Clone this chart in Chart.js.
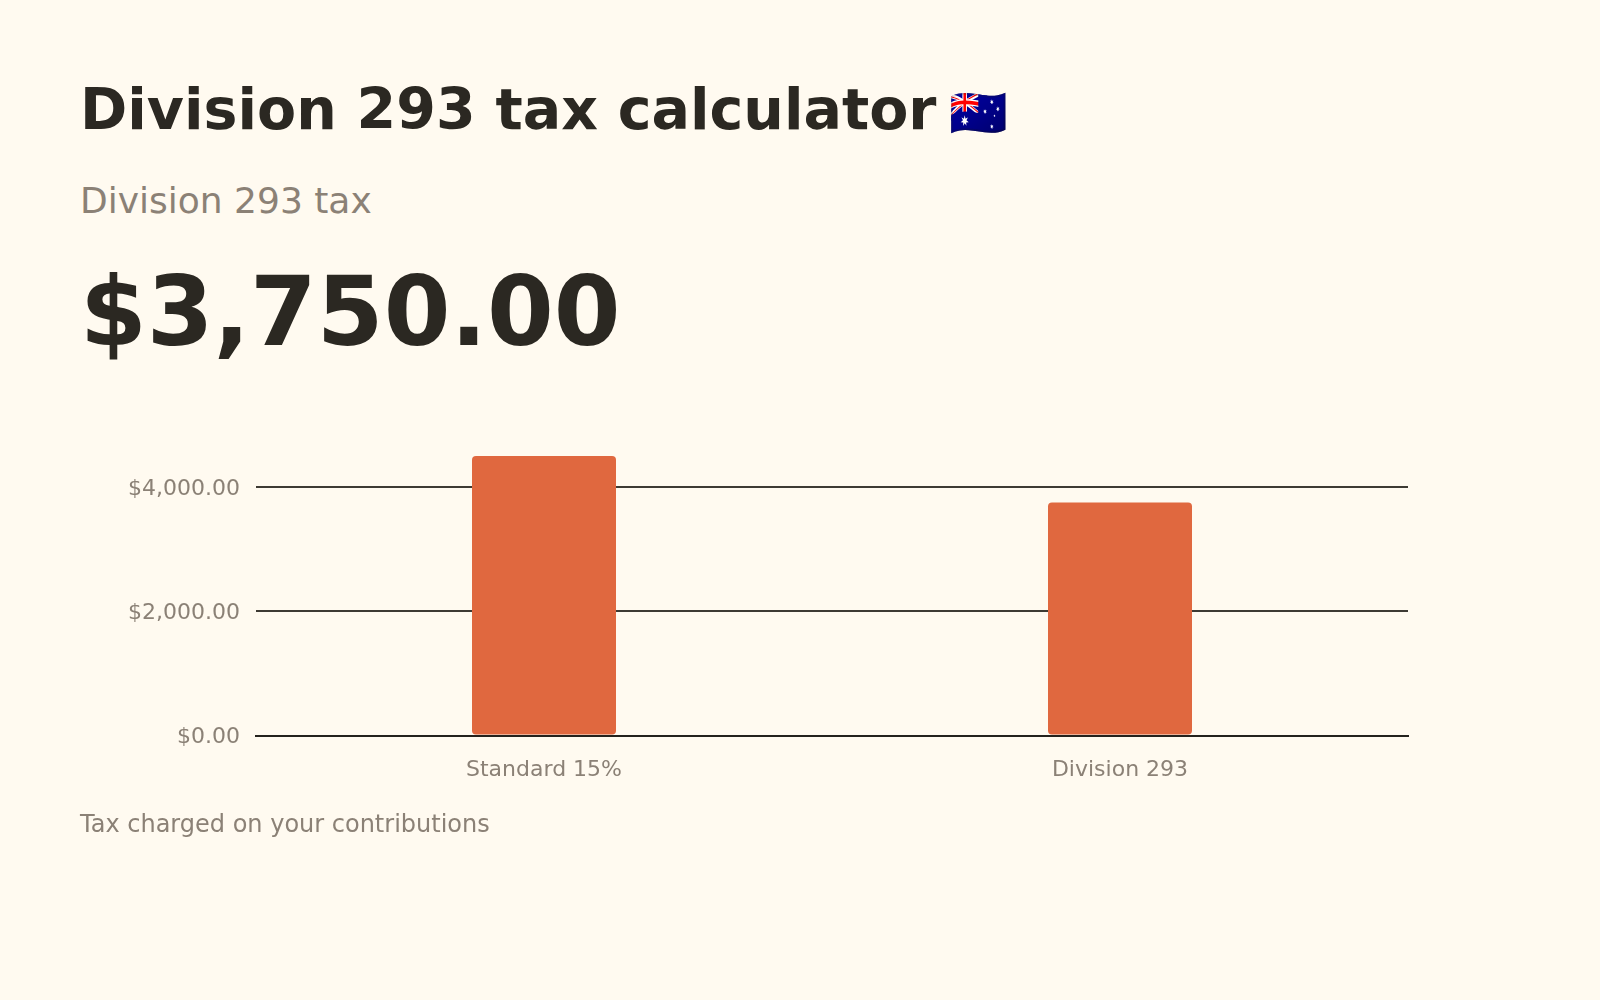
<!DOCTYPE html>
<html>
<head>
<meta charset="utf-8">
<script src="https://cdn.jsdelivr.net/npm/chart.js@4.4.1/dist/chart.umd.min.js"></script>
<style>
  html, body { margin: 0; padding: 0; }
  body {
    width: 1600px; height: 1000px; position: relative; overflow: hidden;
    background: #fffaf0;
    font-family: "DejaVu Sans", sans-serif;
  }
  .txt { position: absolute; left: 80px; line-height: 1; white-space: nowrap; }
  #titulo { top: 81px; font-size: 57px; font-weight: bold; color: #2b2822; }
  #titulo .bandera { font-size: 47px; margin-left: -7px; }
  #subtitulo { top: 183px; font-size: 36px; color: #8b8176; }
  #total { top: 264px; font-size: 96px; font-weight: bold; color: #2b2822; }
  #pie { top: 812px; font-size: 24px; color: #8b8176; }
  #caja { position: absolute; left: 0; top: 420px; width: 1600px; height: 400px; }
</style>
</head>
<body>
<div class="txt" id="titulo">Division 293 tax calculator <span class="bandera">🇦🇺</span></div>
<div class="txt" id="subtitulo">Division 293 tax</div>
<div class="txt" id="total">$3,750.00</div>
<div id="caja"><canvas id="grafica"></canvas></div>
<div class="txt" id="pie">Tax charged on your contributions</div>

<script>
// datos
const categorias = ['Standard 15%', 'Division 293'];
const impuesto = [4500, 3750];
const ticksY = [0, 2000, 4000];
const maxY = 4500;

function formatoDinero(v) {
  return '$' + Number(v).toLocaleString('en-US', { minimumFractionDigits: 2, maximumFractionDigits: 2 });
}

const ctx = document.getElementById('grafica').getContext('2d');
const grafica = new Chart(ctx, {
  type: 'bar',
  data: {
    labels: categorias,
    datasets: [{
      label: 'Tax',
      data: impuesto,
      backgroundColor: '#e0683f',
      borderWidth: 0,
      borderRadius: 4,
      borderSkipped: false,
      categoryPercentage: 0.5,
      barPercentage: 0.5
    }]
  },
  options: {
    responsive: true,
    maintainAspectRatio: false,
    animation: false,
    layout: { padding: { left: 80, right: 192, top: 36, bottom: 16 } },
    plugins: {
      legend: { display: false },
      tooltip: { enabled: false }
    },
    scales: {
      x: {
        grid: { display: false, drawTicks: false },
        border: { display: true, color: '#24221d', width: 2 },
        ticks: {
          color: '#8b8176',
          padding: 21,
          font: { family: 'DejaVu Sans', size: 22 }
        }
      },
      y: {
        min: 0,
        max: maxY,
        afterBuildTicks: (scale) => { scale.ticks = ticksY.map(v => ({ value: v })); },
        afterFit: (scale) => { scale.width = 176; },
        grid: { color: '#3d3a33', lineWidth: 2, drawTicks: false },
        border: { display: false },
        ticks: {
          color: '#8b8176',
          padding: 16,
          labelOffset: 2,
          font: { family: 'DejaVu Sans', size: 22 },
          callback: (v) => formatoDinero(v)
        }
      }
    }
  }
});
</script>
</body>
</html>
